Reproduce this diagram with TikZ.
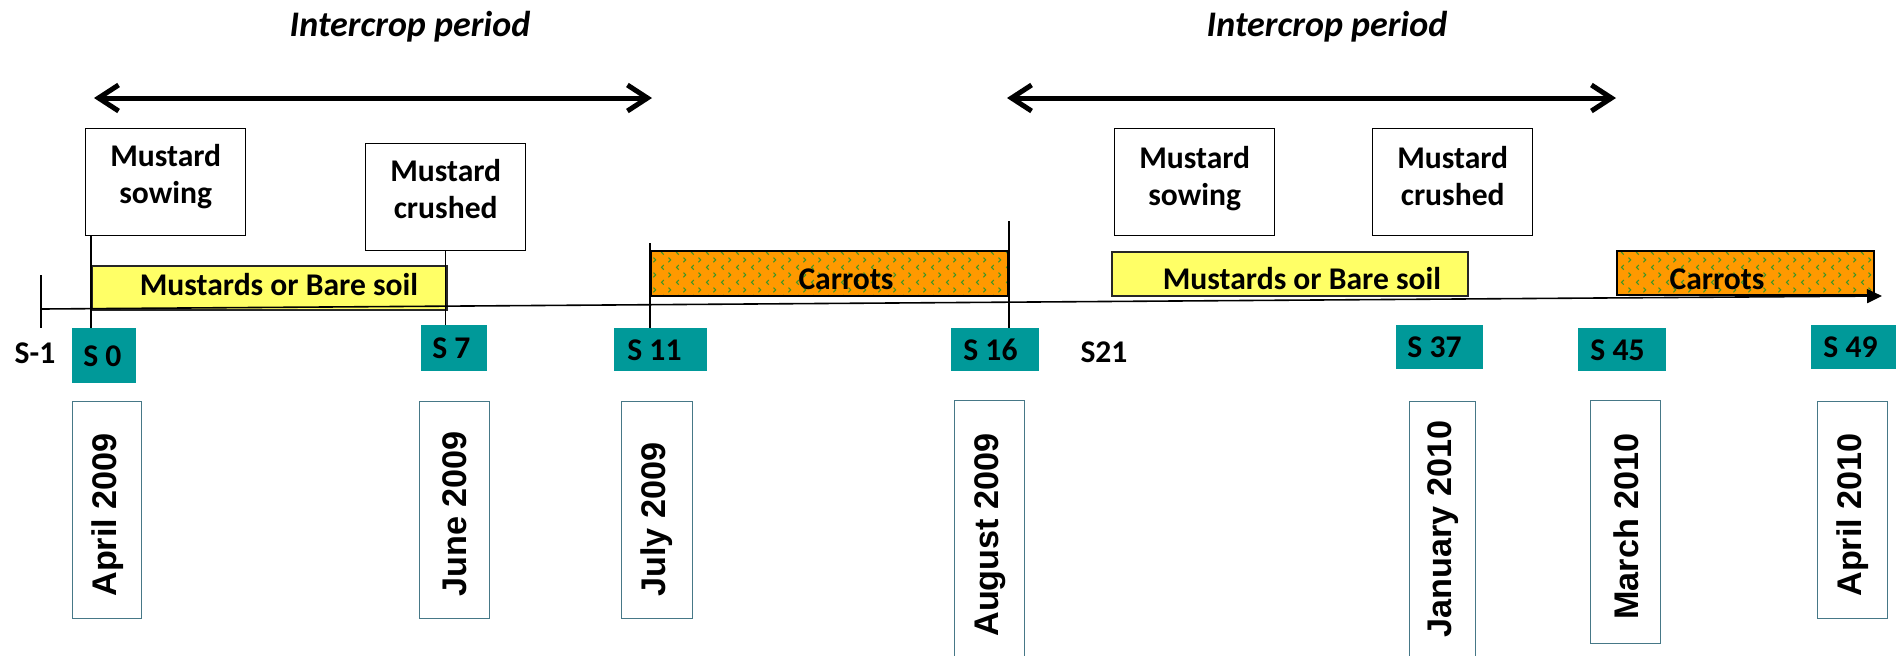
\documentclass[tikz,border=0pt]{standalone}
\usepackage{fontspec}
\setmainfont{Carlito}
\newfontfamily\datefont{Liberation Sans}
\usetikzlibrary{arrows.meta, patterns, calc}
\definecolor{SoilYellow}{RGB}{255, 255, 102}
\definecolor{CarrotOrange}{RGB}{255, 153, 0}
\definecolor{LeafGreen}{RGB}{60, 150, 40}
\definecolor{StageTeal}{RGB}{0, 153, 153}
\definecolor{DateEdge}{RGB}{70, 120, 135}

% little green marks on the carrot bars
\pgfdeclarepatternformonly{carrotmarks}{\pgfqpoint{0pt}{0pt}}{\pgfqpoint{7.5pt}{7.7pt}}{\pgfqpoint{7.5pt}{7.7pt}}{%
  \pgfsetlinewidth{0.55pt}
  \pgfpathmoveto{\pgfqpoint{2pt}{0.7pt}}
  \pgfpathlineto{\pgfqpoint{0.8pt}{1.9pt}}
  \pgfpathlineto{\pgfqpoint{2pt}{3.1pt}}
  \pgfpathmoveto{\pgfqpoint{4.5pt}{4.5pt}}
  \pgfpathlineto{\pgfqpoint{5.7pt}{5.7pt}}
  \pgfpathlineto{\pgfqpoint{4.5pt}{6.9pt}}
  \pgfusepath{stroke}
}

\begin{document}
\begin{tikzpicture}[x=0.5pt, y=-0.5pt,
    txt/.style={inner sep=0pt, font=\fontsize{15.8}{18.5}\selectfont\bfseries},
    period/.style={line width=2.5pt, <->, >={Straight Barb[length=10pt,width=13pt]}},
    topbox/.style={draw, line width=0.7pt, fill=white, anchor=north west, inner sep=0pt,
        minimum width=80pt, minimum height=53.5pt},
    soilbar/.style={draw=black!85, line width=0.8pt, fill=SoilYellow, anchor=north west,
        inner sep=0pt, minimum height=22pt},
    carrotbar/.style={draw, line width=1pt, preaction={fill=CarrotOrange}, pattern=carrotmarks,
        pattern color=LeafGreen, anchor=north west, inner sep=0pt, minimum height=22.5pt},
    sbox/.style={fill=StageTeal, anchor=north west, inner sep=0pt, minimum height=21.5pt},
    datebox/.style={draw=DateEdge, line width=0.6pt, fill=white, anchor=north west, inner sep=0pt},
    datetxt/.style={rotate=90, anchor=west, inner sep=0pt,
        font=\datefont\fontsize{17.1}{19}\selectfont\bfseries},
    tick/.style={line width=0.7pt}]

    \useasboundingbox (0,0) rectangle (1896,655);
    \clip (0,0) rectangle (1896,655);

    % Intercrop periods
    \node[txt, anchor=base, font=\fontsize{18}{20}\selectfont\bfseries\itshape] (ip1) at (410,36) {Intercrop period};
    \node[txt, anchor=base, font=\fontsize{18}{20}\selectfont\bfseries\itshape] (ip2) at (1327,36) {Intercrop period};
    \coordinate (ip1a) at (94,98);
    \coordinate (ip1b) at (652,98);
    \coordinate (ip2a) at (1007,98);
    \coordinate (ip2b) at (1616,98);
    \draw[period] (ip1a) -- (ip1b);
    \draw[period] (ip2a) -- (ip2b);

    % Mustard events
    \node[topbox] (sow1) at (85,128) {};
    \node[txt, anchor=north, align=center] (sow1t) at ([yshift=-8pt]sow1.north) {Mustard\\sowing};
    \node[topbox] (cru1) at (365,143) {};
    \node[txt, anchor=north, align=center] (cru1t) at ([yshift=-8pt]cru1.north) {Mustard\\crushed};
    \node[topbox] (sow2) at (1114,128) {};
    \node[txt, anchor=north, align=center] (sow2t) at ([yshift=-9pt]sow2.north) {Mustard\\sowing};
    \node[topbox] (cru2) at (1372,128) {};
    \node[txt, anchor=north, align=center] (cru2t) at ([yshift=-9pt]cru2.north) {Mustard\\crushed};

    % Crop bars
    \node[soilbar, minimum width=177.5pt] (mus1) at (91,265) {};
    \node[txt, anchor=base] (mus1t) at (279,295) {Mustards or Bare soil};
    \node[carrotbar, minimum width=178.5pt] (car1) at (650,250) {};
    \node[txt, anchor=base] (car1t) at (846,289) {Carrots};
    \node[soilbar, minimum width=178pt] (mus2) at (1111,251) {};
    \node[txt, anchor=base] (mus2t) at (1302,289) {Mustards or Bare soil};
    \node[carrotbar, minimum width=128.5pt, minimum height=22pt] (car2) at (1616,250) {};
    \node[txt, anchor=base] (car2t) at (1717,289) {Carrots};

    % Sampling stages
    \node[txt] (sm1) at (35,353) {S-1};
    \node[sbox, minimum width=32pt, minimum height=27.5pt] (s0) at (72,328) {};
    \node[txt, anchor=west] (s0t) at ([xshift=5.5pt]s0.west) {S 0};
    \node[sbox, minimum width=33pt, minimum height=23pt] (s7) at (421,325) {};
    \node[txt, anchor=west] (s7t) at ([xshift=5.5pt]s7.west) {S 7};
    \node[sbox, minimum width=46.5pt] (s11) at (614,328) {};
    \node[txt, anchor=west] (s11t) at ([xshift=6.5pt]s11.west) {S 11};
    \node[sbox, minimum width=44pt] (s16) at (951,328) {};
    \node[txt, anchor=west] (s16t) at ([xshift=6pt]s16.west) {S 16};
    \node[txt] (s21) at (1104,352) {S21};
    \node[sbox, minimum width=43.5pt, minimum height=22pt] (s37) at (1396,325) {};
    \node[txt, anchor=west] (s37t) at ([xshift=5.5pt]s37.west) {S 37};
    \node[sbox, minimum width=44pt] (s45) at (1578,328) {};
    \node[txt, anchor=west] (s45t) at ([xshift=6pt]s45.west) {S 45};
    \node[sbox, minimum width=44.5pt, minimum height=22pt] (s49) at (1811,325) {};
    \node[txt, anchor=west] (s49t) at ([xshift=6pt]s49.west) {S 49};

    % Dates
    \node[datebox, minimum width=34.5pt, minimum height=108.5pt] (d1) at (72,401) {};
    \node[datetxt] (d1t) at (108,597) {April 2009};
    \node[datebox, minimum width=35pt, minimum height=108.5pt] (d2) at (419,401) {};
    \node[datetxt] (d2t) at (455,597) {June 2009};
    \node[datebox, minimum width=35.5pt, minimum height=108.5pt] (d3) at (621,401) {};
    \node[datetxt] (d3t) at (657,597) {July 2009};
    \node[datebox, minimum width=35pt, minimum height=140pt] (d4) at (954,400) {};
    \node[datetxt] (d4t) at (990,637) {August 2009};
    \node[datebox, minimum width=33pt, minimum height=140pt] (d5) at (1409,401) {};
    \node[datetxt] (d5t) at (1443,638) {January 2010};
    \node[datebox, minimum width=35pt, minimum height=121.5pt] (d6) at (1590,400) {};
    \node[datetxt] (d6t) at (1626,620) {March 2010};
    \node[datebox, minimum width=35pt, minimum height=108.5pt] (d7) at (1817,401) {};
    \node[datetxt] (d7t) at (1853,597) {April 2010};

    % Time axis
    \coordinate (tstart) at (41,309);
    \coordinate (tend) at (1882,296);
    \draw[line width=0.8pt, -{Triangle[length=7.5pt,width=7pt]}] (tstart) -- (tend);
    \draw[tick] ([yshift=17pt]tstart) -- ([yshift=-9.5pt]tstart);

    % Links to stages
    \draw[tick] (sow1.south -| mus1.west) -- (mus1.west |- s0.north);
    \draw[tick] (cru1.south) -- (cru1.south |- s7.north);
    \draw[tick] ([yshift=3.5pt]car1.north west) -- (car1.west |- s11.north);
    \draw[tick] ([yshift=14.5pt]car1.north east) -- (car1.east |- s16.north);
\end{tikzpicture}
\end{document}
